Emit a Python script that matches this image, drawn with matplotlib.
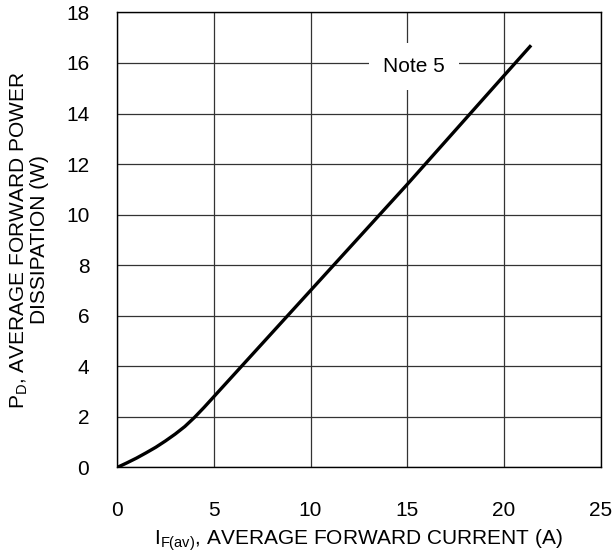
import matplotlib.pyplot as plt
import numpy as np

plt.rcParams['font.family'] = ['Liberation Sans', 'DejaVu Sans']

# forward current (A) and power dissipation (W)
i_f = [0, 0.5, 1, 1.5, 2, 2.5, 3, 3.5, 4, 4.5, 5, 7.5, 10, 12.5, 15, 17.5, 20, 21.4]
p_d = [0, 0.18, 0.37, 0.58, 0.8, 1.05, 1.32, 1.62, 1.98, 2.38, 2.8, 4.9, 7.0, 9.1, 11.2, 13.35, 15.5, 16.7]

x_ticks = [0, 5, 10, 15, 20, 25]
y_ticks = [0, 2, 4, 6, 8, 10, 12, 14, 16, 18]

fs = 15

fig = plt.figure(figsize=(6.13, 5.57), dpi=100)
ax = fig.add_axes([0.191, 0.1607, 0.789, 0.817])

ax.plot(i_f, p_d, color='black', linewidth=2.4, solid_capstyle='butt', zorder=3)

ax.set_xlim(0, 25)
ax.set_ylim(0, 18)
ax.set_xticks(x_ticks)
ax.set_yticks(y_ticks)
ax.grid(True, color='#333333', linewidth=0.9)
ax.tick_params(length=0, labelsize=fs)
ax.tick_params(axis='x', pad=24)
ax.tick_params(axis='y', pad=20)
for s in ax.spines.values():
    s.set_linewidth(1.0)

ax.text(15.35, 15.85, 'Note 5', fontsize=fs, ha='center', va='center', zorder=2,
        bbox=dict(facecolor='white', edgecolor='none', pad=10))

ax.set_xlabel('I$_{\\mathregular{F(av)}}$, AVERAGE FORWARD CURRENT (A)', fontsize=fs, labelpad=5)
ax.set_ylabel('P$_{\\mathregular{D}}$, AVERAGE FORWARD POWER\nDISSIPATION (W)', fontsize=fs,
              labelpad=12, linespacing=1.05)

fig.savefig('out.png', dpi=100)
